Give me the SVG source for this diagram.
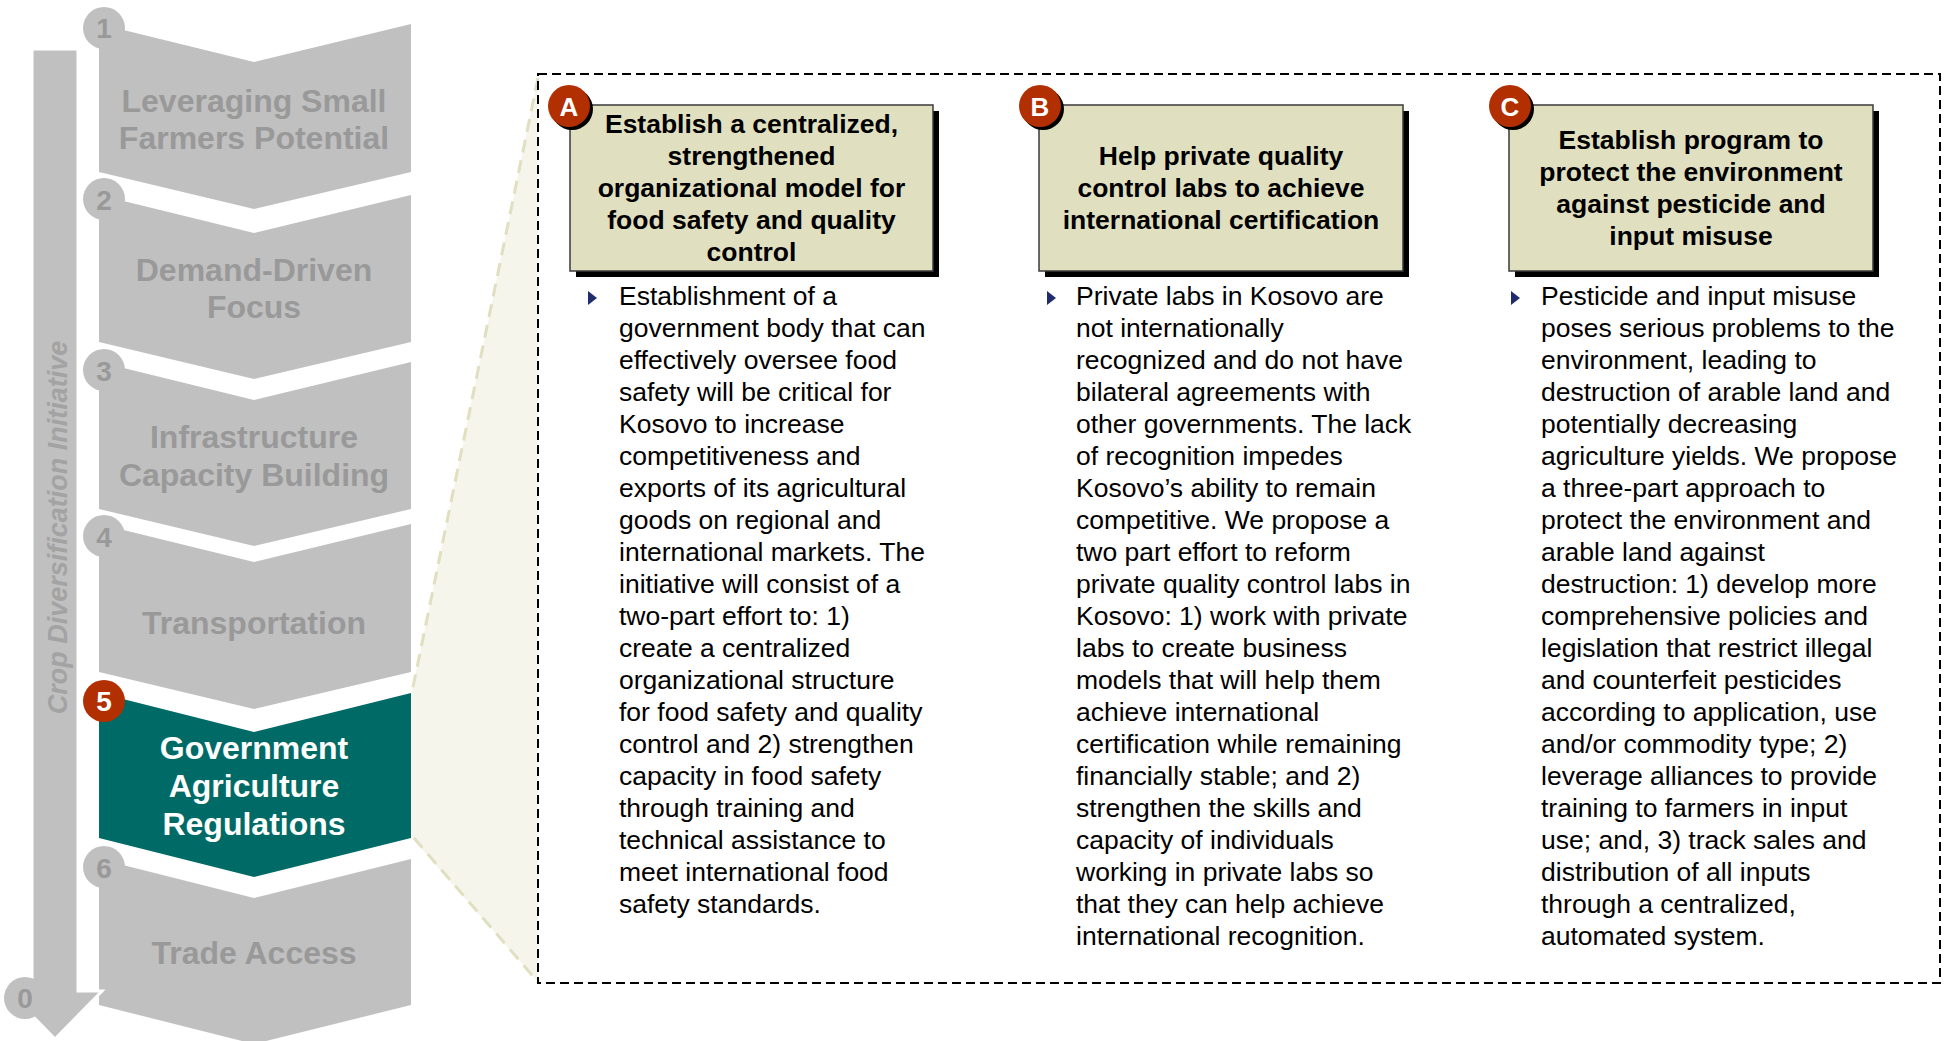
<svg xmlns="http://www.w3.org/2000/svg" width="1944" height="1041" viewBox="0 0 1944 1041">
<defs>
<style>
.chev{fill:#C0C0C0}
.chevA{fill:#006B66}
.ctx{font-family:"Liberation Sans",Arial,sans-serif;font-weight:bold;font-size:32px;fill:#999999;text-anchor:middle}
.ctxA{font-family:"Liberation Sans",Arial,sans-serif;font-weight:bold;font-size:32px;fill:#FFFFFF;text-anchor:middle}
.num{font-family:"Liberation Sans",Arial,sans-serif;font-weight:bold;font-size:28px;fill:#999999;text-anchor:middle}
.numA{font-family:"Liberation Sans",Arial,sans-serif;font-weight:bold;font-size:28px;fill:#FFFFFF;text-anchor:middle}
.ncirc{fill:#C0C0C0}
.rcirc{fill:#B12F00}
.card{fill:#E0E0C0;stroke:#3A3A3A;stroke-width:1.5}
.shadow{fill:#000000}
.ttl{font-family:"Liberation Sans",Arial,sans-serif;font-weight:bold;font-size:26.5px;fill:#000000;text-anchor:middle}
.body{font-family:"Liberation Sans",Arial,sans-serif;font-size:26.5px;fill:#000000}
.badge{font-family:"Liberation Sans",Arial,sans-serif;font-weight:bold;font-size:26px;fill:#FFFFFF;text-anchor:middle}
.bullet{fill:#1F2D6E}
</style>
<path id="tri" d="M0,-7 L9,0 L0,7 Z"/>
</defs>

<!-- callout trapezoid -->
<g id="callout">
<polygon points="538,78 412,692 412,838 538,982" fill="#F5F5EC"/>
<path d="M538,78 L412,692 M414,838 L538,982" fill="none" stroke="#E0DFC0" stroke-width="3" stroke-dasharray="13 8"/>
</g>

<!-- chevrons -->
<g id="step1">
<polygon class="chev" points="99,24 254,62 411,24 411,172 254,209 99,172"/>
<text class="ctx" x="254" y="112">Leveraging Small</text>
<text class="ctx" x="254" y="149">Farmers Potential</text>
<circle class="ncirc" cx="104" cy="28" r="21"/>
<text class="num" x="104" y="38">1</text>
</g>
<g id="step2">
<polygon class="chev" points="99,195 254,233 411,195 411,342 254,379 99,342"/>
<text class="ctx" x="254" y="281">Demand-Driven</text>
<text class="ctx" x="254" y="318">Focus</text>
<circle class="ncirc" cx="104" cy="199" r="21"/>
<text class="num" x="104" y="210">2</text>
</g>
<g id="step3">
<polygon class="chev" points="99,362 254,400 411,362 411,509 254,546 99,509"/>
<text class="ctx" x="254" y="448">Infrastructure</text>
<text class="ctx" x="254" y="486">Capacity Building</text>
<circle class="ncirc" cx="104" cy="370" r="21"/>
<text class="num" x="104" y="381">3</text>
</g>
<g id="step4">
<polygon class="chev" points="99,524 254,562 411,524 411,672 254,709 99,672"/>
<text class="ctx" x="254" y="634">Transportation</text>
<circle class="ncirc" cx="104" cy="536" r="21"/>
<text class="num" x="104" y="547">4</text>
</g>
<g id="step5">
<polygon class="chevA" points="99,693 254,732 411,693 411,838 254,877 99,838"/>
<text class="ctxA" x="254" y="759">Government</text>
<text class="ctxA" x="254" y="797">Agriculture</text>
<text class="ctxA" x="254" y="835">Regulations</text>
<circle class="rcirc" cx="104" cy="701" r="21"/>
<text class="numA" x="104" y="711">5</text>
</g>
<g id="step6">
<polygon class="chev" points="99,859 254,898 411,859 411,1005 254,1044 99,1005"/>
<text class="ctx" x="254" y="964">Trade Access</text>
<circle class="ncirc" cx="104" cy="867" r="21"/>
<text class="num" x="104" y="878">6</text>
</g>

<!-- vertical initiative arrow -->
<g id="connectors">
<path d="M32,49 H78 V991 H102 L55,1039 L8,991 H32 Z" fill="#C0C0C0" stroke="#FFFFFF" stroke-width="3" stroke-linejoin="miter"/>
<text x="66.5" y="527.5" transform="rotate(-90 66.5 527.5)" font-family="'Liberation Sans',Arial,sans-serif" font-weight="bold" font-style="italic" font-size="27" fill="#A3A3A3" text-anchor="middle">Crop Diversification Initiative</text>
<circle class="ncirc" cx="25" cy="998" r="21"/>
<text class="num" x="25" y="1008">0</text>
</g>

<!-- detail box -->
<rect x="538" y="74" width="1402" height="909" fill="none" stroke="#000000" stroke-width="2" stroke-dasharray="9 5"/>

<!-- Card A -->
<g id="cardA">
<rect class="shadow" x="576" y="111" width="363" height="166"/>
<rect class="card" x="570" y="105" width="363" height="166"/>
<circle class="shadow" cx="572" cy="109" r="21"/>
<circle class="rcirc" cx="569" cy="106" r="21"/>
<text class="badge" x="569" y="115.5">A</text>
<text class="ttl" x="751.5" y="133">Establish a centralized,</text>
<text class="ttl" x="751.5" y="165">strengthened</text>
<text class="ttl" x="751.5" y="197">organizational model for</text>
<text class="ttl" x="751.5" y="229">food safety and quality</text>
<text class="ttl" x="751.5" y="261">control</text>
<use href="#tri" class="bullet" x="588" y="298"/>
<text class="body">
<tspan x="619" y="305">Establishment of a</tspan>
<tspan x="619" y="337">government body that can</tspan>
<tspan x="619" y="369">effectively oversee food</tspan>
<tspan x="619" y="401">safety will be critical for</tspan>
<tspan x="619" y="433">Kosovo to increase</tspan>
<tspan x="619" y="465">competitiveness and</tspan>
<tspan x="619" y="497">exports of its agricultural</tspan>
<tspan x="619" y="529">goods on regional and</tspan>
<tspan x="619" y="561">international markets. The</tspan>
<tspan x="619" y="593">initiative will consist of a</tspan>
<tspan x="619" y="625">two-part effort to: 1)</tspan>
<tspan x="619" y="657">create a centralized</tspan>
<tspan x="619" y="689">organizational structure</tspan>
<tspan x="619" y="721">for food safety and quality</tspan>
<tspan x="619" y="753">control and 2) strengthen</tspan>
<tspan x="619" y="785">capacity in food safety</tspan>
<tspan x="619" y="817">through training and</tspan>
<tspan x="619" y="849">technical assistance to</tspan>
<tspan x="619" y="881">meet international food</tspan>
<tspan x="619" y="913">safety standards.</tspan>
</text>
</g>

<!-- Card B -->
<g id="cardB">
<rect class="shadow" x="1045" y="111" width="364" height="166"/>
<rect class="card" x="1039" y="105" width="364" height="166"/>
<circle class="shadow" cx="1043" cy="109" r="21"/>
<circle class="rcirc" cx="1040" cy="106" r="21"/>
<text class="badge" x="1040" y="115.5">B</text>
<text class="ttl" x="1221" y="165">Help private quality</text>
<text class="ttl" x="1221" y="197">control labs to achieve</text>
<text class="ttl" x="1221" y="229">international certification</text>
<use href="#tri" class="bullet" x="1047" y="298"/>
<text class="body">
<tspan x="1076" y="305">Private labs in Kosovo are</tspan>
<tspan x="1076" y="337">not internationally</tspan>
<tspan x="1076" y="369">recognized and do not have</tspan>
<tspan x="1076" y="401">bilateral agreements with</tspan>
<tspan x="1076" y="433">other governments. The lack</tspan>
<tspan x="1076" y="465">of recognition impedes</tspan>
<tspan x="1076" y="497">Kosovo’s ability to remain</tspan>
<tspan x="1076" y="529">competitive. We propose a</tspan>
<tspan x="1076" y="561">two part effort to reform</tspan>
<tspan x="1076" y="593">private quality control labs in</tspan>
<tspan x="1076" y="625">Kosovo: 1) work with private</tspan>
<tspan x="1076" y="657">labs to create business</tspan>
<tspan x="1076" y="689">models that will help them</tspan>
<tspan x="1076" y="721">achieve international</tspan>
<tspan x="1076" y="753">certification while remaining</tspan>
<tspan x="1076" y="785">financially stable; and 2)</tspan>
<tspan x="1076" y="817">strengthen the skills and</tspan>
<tspan x="1076" y="849">capacity of individuals</tspan>
<tspan x="1076" y="881">working in private labs so</tspan>
<tspan x="1076" y="913">that they can help achieve</tspan>
<tspan x="1076" y="945">international recognition.</tspan>
</text>
</g>

<!-- Card C -->
<g id="cardC">
<rect class="shadow" x="1515" y="111" width="364" height="166"/>
<rect class="card" x="1509" y="105" width="364" height="166"/>
<circle class="shadow" cx="1513" cy="109" r="21"/>
<circle class="rcirc" cx="1510" cy="106" r="21"/>
<text class="badge" x="1510" y="115.5">C</text>
<text class="ttl" x="1691" y="149">Establish program to</text>
<text class="ttl" x="1691" y="181">protect the environment</text>
<text class="ttl" x="1691" y="213">against pesticide and</text>
<text class="ttl" x="1691" y="245">input misuse</text>
<use href="#tri" class="bullet" x="1511" y="298"/>
<text class="body">
<tspan x="1541" y="305">Pesticide and input misuse</tspan>
<tspan x="1541" y="337">poses serious problems to the</tspan>
<tspan x="1541" y="369">environment, leading to</tspan>
<tspan x="1541" y="401">destruction of arable land and</tspan>
<tspan x="1541" y="433">potentially decreasing</tspan>
<tspan x="1541" y="465">agriculture yields. We propose</tspan>
<tspan x="1541" y="497">a three-part approach to</tspan>
<tspan x="1541" y="529">protect the environment and</tspan>
<tspan x="1541" y="561">arable land against</tspan>
<tspan x="1541" y="593">destruction: 1) develop more</tspan>
<tspan x="1541" y="625">comprehensive policies and</tspan>
<tspan x="1541" y="657">legislation that restrict illegal</tspan>
<tspan x="1541" y="689">and counterfeit pesticides</tspan>
<tspan x="1541" y="721">according to application, use</tspan>
<tspan x="1541" y="753">and/or commodity type; 2)</tspan>
<tspan x="1541" y="785">leverage alliances to provide</tspan>
<tspan x="1541" y="817">training to farmers in input</tspan>
<tspan x="1541" y="849">use; and, 3) track sales and</tspan>
<tspan x="1541" y="881">distribution of all inputs</tspan>
<tspan x="1541" y="913">through a centralized,</tspan>
<tspan x="1541" y="945">automated system.</tspan>
</text>
</g>
</svg>
